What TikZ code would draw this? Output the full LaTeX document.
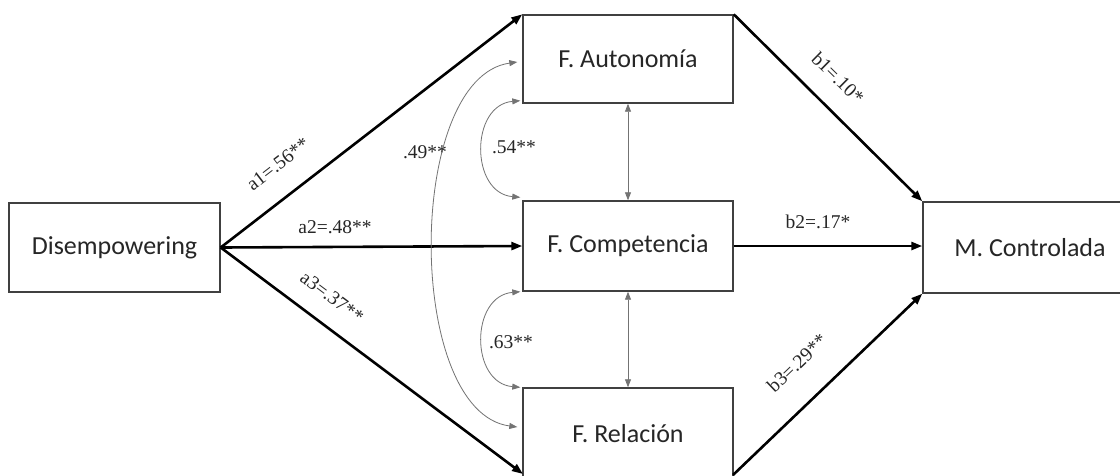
\documentclass[tikz,border=0pt]{standalone}
\usepackage{fontspec}
\setmainfont{Liberation Serif}
\newfontfamily\boxfont{Carlito}
\usetikzlibrary{arrows.meta,calc}
\begin{document}
\begin{tikzpicture}[x=1pt,y=-1pt,
  box/.style={draw=black!75,line width=1.4pt,minimum width=210pt,minimum height=88pt,inner sep=0pt,font=\boxfont\fontsize{26}{30}\selectfont,text=black!85},
  path/.style={line width=2.6pt,-{Triangle[length=11pt,width=8pt]}},
  cov/.style={draw=black!55,line width=0.8pt,{Triangle[length=8pt,width=6pt]}-{Triangle[length=8pt,width=6pt]}},
  lab/.style={font=\fontsize{19.5}{22}\selectfont,text=black!85,inner sep=0pt}]
\useasboundingbox (0,0) rectangle (1120,475);
\fill[white] (0,0) rectangle (1120,475);
\node[box,minimum width=211pt,minimum height=89pt] (dis) at (114.5,247.5) {Disempowering};
\node[box] (aut) at (628,59) {F. Autonom\'ia};
\node[box,minimum height=90pt] (com) at (628,246) {F. Competencia};
\node[box,minimum height=92pt] (rel) at (628,434) {F. Relaci\'on};
\node[box,minimum width=214pt,minimum height=91pt] (mc) at (1030,247.5) {M. Controlada};
\coordinate (a3end) at (523,474);
\coordinate (b3start) at (733,475);
% direct paths
\draw[path] (dis.east) -- (aut.north west);
\draw[path] (dis.east) -- (com.west);
\draw[path] (dis.east) -- (a3end);
\draw[path] (aut.north east) -- (mc.north west);
\draw[path] (com.east) -- (com.east -| mc.west);
\draw[path] (b3start) -- (mc.south west);
% covariances
\draw[cov] (aut.south) -- (com.north);
\draw[cov] (com.south) -- (rel.north);
\draw[cov] ($(aut.south west)+(-2,-3)$) .. controls (470,105) and (470,193) .. ($(com.north west)+(-2,-3)$);
\draw[cov] ($(com.south west)+(-2,0)$) .. controls (470,296) and (470,383) .. ($(rel.north west)+(-2,0)$);
\draw[cov] ($(aut.west)+(-5,3)$) .. controls (405,78) and (405,412) .. ($(rel.west)+(-5,-7)$);
% labels
\node[lab,rotate=37.6] (la1) at (278,164) {a1=.56**};
\node[lab] (la2) at (335,227) {a2=.48**};
\node[lab,rotate=-36.8] (la3) at (332,297) {a3=.37**};
\node[lab,rotate=-44.5] (lb1) at (838,78) {b1=.10*};
\node[lab] (lb2) at (818,222) {b2=.17*};
\node[lab,rotate=43.7] (lb3) at (797,363) {b3=.29**};
\node[lab] (l49) at (425,152) {.49**};
\node[lab] (l54) at (514,147) {.54**};
\node[lab] (l63) at (511,342) {.63**};
\end{tikzpicture}
\end{document}
